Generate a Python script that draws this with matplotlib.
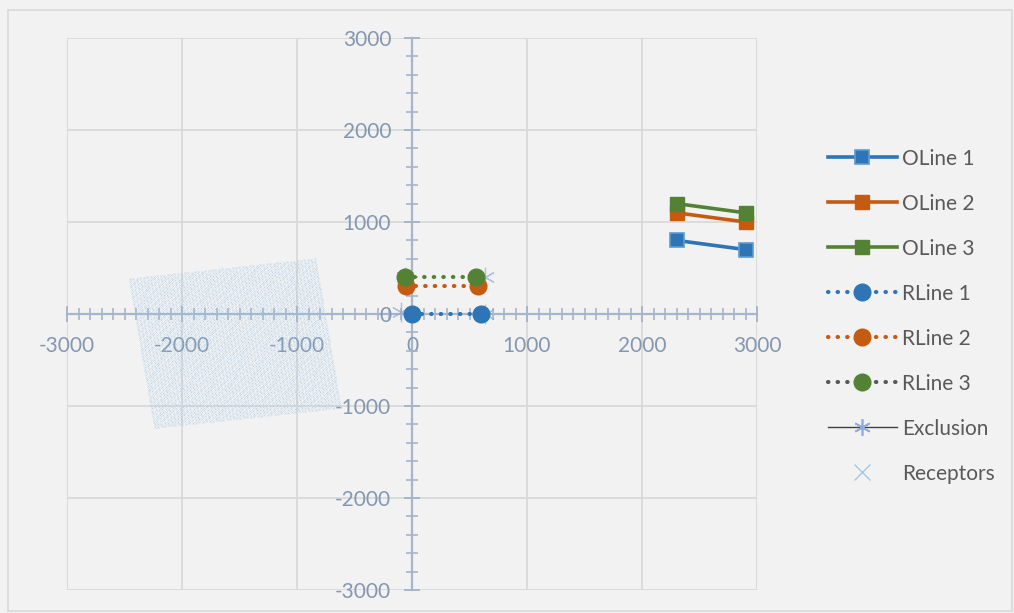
import numpy as np
import matplotlib
matplotlib.use("Agg")
import matplotlib.pyplot as plt
from matplotlib.lines import Line2D
from matplotlib.ticker import MultipleLocator

# ---- data ----
oline1_x = [2300, 2900]; oline1_y = [800, 700]
oline2_x = [2300, 2900]; oline2_y = [1100, 1000]
oline3_x = [2300, 2900]; oline3_y = [1200, 1100]
rline1_x = [0, 600];     rline1_y = [0, 0]
rline2_x = [-50, 570];   rline2_y = [300, 300]
rline3_x = [-60, 560];   rline3_y = [400, 400]
excl_x = [-60, 635, 635, -100]
excl_y = [400, 400, 0, 20]
# receptor grid (regular rotated grid)
rec_origin = (-2235, -1228)
rec_spacing = 30
rec_count = 55
rec_angle_deg = 7.7
ticks = [-3000, -2000, -1000, 0, 1000, 2000, 3000]

u = np.arange(rec_count) * rec_spacing
U, V = np.meshgrid(u, u)
a = np.deg2rad(rec_angle_deg)
rec_x = (rec_origin[0] + U * np.cos(a) - V * np.sin(a)).ravel()
rec_y = (rec_origin[1] + U * np.sin(a) + V * np.cos(a)).ravel()

BG = "#F2F2F2"
AX = "#A7B5CA"
LBL = "#8497B0"
BLUE = "#2E75B6"; BLUE_E = "#5B9BD5"
ORANGE = "#C55A11"
GREEN = "#548235"
REC = "#9DC3E6"
EXC = "#8FAADC"

plt.rcParams['font.family'] = ['Lato', 'DejaVu Sans']

fig = plt.figure(figsize=(10.14, 6.13), dpi=100, facecolor=BG)
fig.patches.append(plt.Rectangle((8/1014, 2/613), 1004/1014, 601/613, transform=fig.transFigure,
                                 fill=False, edgecolor="#D9D9D9", lw=1.2))
ax = fig.add_axes([67/1014, 1 - 590/613, 690/1014, 552/613])
ax.set_facecolor(BG)
ax.set_xlim(-3000, 3000)
ax.set_ylim(-3000, 3000)

for t in ticks:
    ax.axvline(t, color="#D9D9D9", lw=1.3, zorder=0)
    ax.axhline(t, color="#D9D9D9", lw=1.3, zorder=0)

for s in ['top', 'right']:
    ax.spines[s].set_visible(False)
for s in ['left', 'bottom']:
    ax.spines[s].set_position('zero')
    ax.spines[s].set_color(AX)
    ax.spines[s].set_linewidth(1.6)
    ax.spines[s].set_zorder(1)

ax.xaxis.set_major_locator(MultipleLocator(1000))
ax.xaxis.set_minor_locator(MultipleLocator(100))
ax.yaxis.set_major_locator(MultipleLocator(1000))
ax.yaxis.set_minor_locator(MultipleLocator(200))
ax.tick_params(which='major', direction='inout', length=12, width=1.4, color=AX,
               labelcolor=LBL, labelsize=15)
ax.tick_params(which='minor', direction='inout', length=9, width=1.2, color=AX)
ax.tick_params(axis='x', which='major', pad=10)
ax.tick_params(axis='y', which='major', pad=9)
ax.set_xticks(ticks)
ax.set_yticks(ticks)
ax.set_xticklabels([str(t) for t in ticks])
ax.set_yticklabels([str(t) for t in ticks])

# receptors
ax.plot(rec_x, rec_y, linestyle='none', marker='x', markersize=1.6, mew=0.35,
        color=REC, alpha=0.6, zorder=2)

# exclusion
ax.plot(excl_x, excl_y, linestyle='none', marker=(6, 2, 0), markersize=14, mew=0.9,
        color=EXC, alpha=0.7, zorder=3)

# RLines
ax.plot(rline1_x, rline1_y, linestyle=(0, (0.1, 2.2)), dash_capstyle='round', lw=3,
        color=BLUE, marker='o', markersize=12, zorder=4)
ax.plot(rline2_x, rline2_y, linestyle=(0, (0.1, 2.2)), dash_capstyle='round', lw=3,
        color=ORANGE, marker='o', markersize=12, zorder=4)
ax.plot(rline3_x, rline3_y, linestyle=(0, (0.1, 2.2)), dash_capstyle='round', lw=3,
        color=GREEN, marker='o', markersize=12, zorder=4)

# OLines
ax.plot(oline1_x, oline1_y, lw=2.6, color=BLUE, marker='s', markersize=10,
        markeredgecolor=BLUE_E, mew=1.2, zorder=5)
ax.plot(oline2_x, oline2_y, lw=2.6, color=ORANGE, marker='s', markersize=10, zorder=5)
ax.plot(oline3_x, oline3_y, lw=2.6, color=GREEN, marker='s', markersize=10, zorder=5)

handles = [
    Line2D([], [], lw=2.6, color=BLUE, marker='s', markersize=10, markeredgecolor=BLUE_E, mew=1.2),
    Line2D([], [], lw=2.6, color=ORANGE, marker='s', markersize=10),
    Line2D([], [], lw=2.6, color=GREEN, marker='s', markersize=10),
    Line2D([], [], lw=3, linestyle=(0, (0.1, 2.2)), dash_capstyle='round', color=BLUE,
           marker='o', markersize=12),
    Line2D([], [], lw=3, linestyle=(0, (0.1, 2.2)), dash_capstyle='round', color=ORANGE,
           marker='o', markersize=12),
    Line2D([], [], lw=3, linestyle=(0, (0.1, 2.2)), dash_capstyle='round', color="#595959",
           marker='o', markersize=12, markerfacecolor=GREEN, markeredgecolor=GREEN),
    Line2D([], [], lw=1, color="#404040", marker=(6, 2, 0), markersize=12, mew=1.2,
           markeredgecolor=EXC),
    Line2D([], [], linestyle='none', marker='x', markersize=11, mew=0.9, color=REC),
]
labels = ["OLine 1", "OLine 2", "OLine 3", "RLine 1", "RLine 2", "RLine 3",
          "Exclusion", "Receptors"]
leg = fig.legend(handles, labels, loc='upper left', bbox_to_anchor=(809/1014, 1 - 130/613),
                 frameon=False, fontsize=15, labelcolor="#595959", handlelength=3.3,
                 handletextpad=0.25, labelspacing=1.2)

fig.savefig("out.png", dpi=100, facecolor=BG)
